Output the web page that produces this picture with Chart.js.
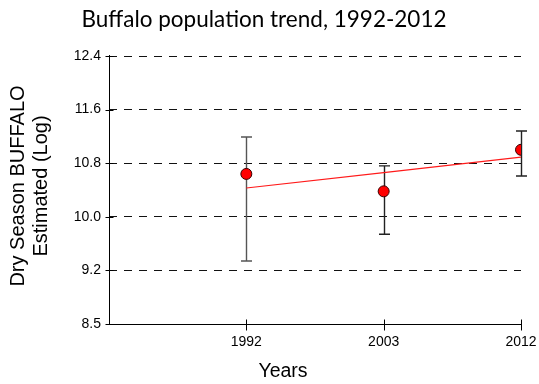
<!DOCTYPE html>
<html><head><meta charset="utf-8">
<script src="https://cdn.jsdelivr.net/npm/chart.js@4"></script>
<style>html,body{margin:0;padding:0;background:#fff}#wrap{width:539px;height:384px;position:relative}</style>
</head><body><div id="wrap"><canvas id="c"></canvas></div>
<script>
const titleText = 'Buffalo population trend, 1992-2012';
const years = ['1992', '2003', '2012'];
const estimates = [10.64, 10.38, 11.00];
const errLow = [9.34, 9.74, 10.61];
const errHigh = [11.19, 10.76, 11.28];
const trend = [10.43, 10.66, 10.89];
const yTickLabels = ['8.5', '9.2', '10.0', '10.8', '11.6', '12.4'];
const xTitle = 'Years';
const yTitle = ['Dry Season BUFFALO', 'Estimated (Log)'];

const SANS = '"Liberation Sans", Arial, Helvetica, sans-serif';

const pts = arr => arr.map((v, i) => ({x: i + 1, y: v}));

const decor = {
  id: 'decor',
  beforeDatasetsDraw(chart) {
    const {ctx, scales: {x, y}, chartArea: a} = chart;
    ctx.save();
    ctx.strokeStyle = '#000';
    ctx.lineWidth = 1;
    ctx.setLineDash([]);
    const L = Math.round(a.left) + 0.5, B = Math.round(a.bottom) + 0.5;
    ctx.beginPath();
    ctx.moveTo(L, a.top - 1); ctx.lineTo(L, B); ctx.lineTo(a.right, B);
    y.ticks.forEach(t => {
      const py = Math.round(y.getPixelForValue(t.value)) + 0.5;
      ctx.moveTo(L - 4, py); ctx.lineTo(L + 4, py);
    });
    x.ticks.forEach(t => {
      if (t.value < 1) return;
      const px = Math.round(x.getPixelForValue(t.value)) + 0.5;
      ctx.moveTo(px, B - 5); ctx.lineTo(px, B + 6);
    });
    ctx.stroke();
    // error bars
    ctx.lineWidth = 1.4;
    errLow.forEach((lo, i) => {
      const px = Math.round(x.getPixelForValue(i + 1)) + 0.5;
      const pl = y.getPixelForValue(lo), ph = y.getPixelForValue(errHigh[i]);
      ctx.strokeStyle = i === 0 ? '#555' : '#222';
      ctx.beginPath();
      ctx.moveTo(px, pl); ctx.lineTo(px, ph);
      ctx.moveTo(px - 5.5, pl); ctx.lineTo(px + 5.5, pl);
      ctx.moveTo(px - 5.5, ph); ctx.lineTo(px + 5.5, ph);
      ctx.stroke();
    });
    ctx.restore();
  },
  afterDraw(chart) {
    const {ctx} = chart;
    ctx.save();
    ctx.fillStyle = '#000';
    ctx.textAlign = 'center';
    ctx.textBaseline = 'middle';
    ctx.font = '19.5px ' + SANS;
    ctx.fillText(xTitle, 283, 372);
    ctx.font = '20px ' + SANS;
    ctx.translate(0, 186);
    ctx.rotate(-Math.PI / 2);
    ctx.fillText(yTitle[0], 0, 18);
    ctx.fillText(yTitle[1], 0, 41);
    ctx.restore();
  }
};

new Chart(document.getElementById('c'), {
  type: 'scatter',
  data: {
    datasets: [
      {
        label: 'Estimate',
        data: pts(estimates),
        showLine: false,
        pointRadius: 5.5,
        pointBackgroundColor: '#ff0000',
        pointBorderColor: '#3a0000',
        pointBorderWidth: 1,
        order: 1
      },
      {
        label: 'Trend',
        data: pts(trend),
        showLine: true,
        borderColor: '#ff1a1a',
        borderWidth: 1.1,
        pointRadius: 0,
        fill: false,
        order: 2
      }
    ]
  },
  options: {
    responsive: true,
    maintainAspectRatio: false,
    animation: false,
    devicePixelRatio: 1,
    layout: {padding: {left: 7, right: 18, top: 0, bottom: 0}},
    plugins: {
      legend: {display: false},
      tooltip: {enabled: false},
      title: {
        display: true,
        text: titleText,
        color: '#000',
        font: {family: 'Lato, "Open Sans", sans-serif', size: 22.5, weight: 'normal', lineHeight: 1.2},
        padding: {top: 6, bottom: 23}
      }
    },
    scales: {
      x: {
        type: 'linear',
        min: 0,
        max: 3,
        afterFit(s) { s.height = 60; s.paddingRight = 0; s.paddingLeft = 0; },
        grid: {display: false},
        border: {display: false},
        ticks: {
          stepSize: 1,
          padding: 2,
          color: '#000',
          font: {family: SANS, size: 14},
          maxRotation: 0,
          autoSkip: false,
          callback: (v) => (v >= 1 && v <= years.length) ? years[v - 1] : ''
        }
      },
      y: {
        type: 'linear',
        min: 8.4,
        max: 12.4,
        afterFit(s) { s.width = 102; s.paddingTop = 0; s.paddingBottom = 0; },
        grid: {display: true, drawTicks: false, color: '#111', lineWidth: 1},
        border: {display: false, dash: [8, 7]},
        ticks: {
          stepSize: 0.8,
          padding: 8,
          color: '#000',
          font: {family: SANS, size: 14},
          callback: (v, i) => yTickLabels[i]
        }
      }
    }
  },
  plugins: [decor]
});
</script>
</body></html>
